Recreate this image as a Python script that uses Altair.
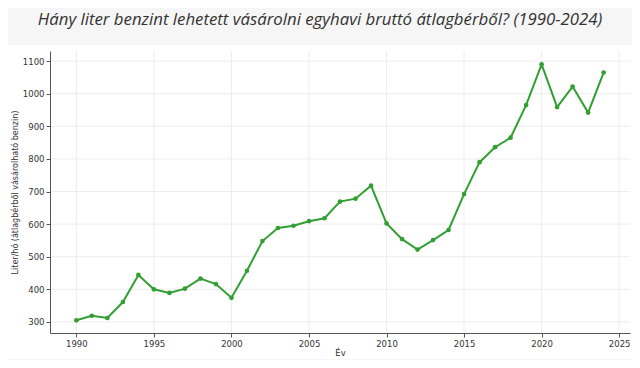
import altair as alt
import pandas as pd

years = list(range(1990, 2025))
liters = [305, 319, 312, 361, 444, 400, 389, 402, 433, 416,
          374, 457, 548, 588, 595, 609, 618, 669, 678, 718,
          602, 554, 522, 551, 582, 692, 790, 836, 865, 965,
          1090, 959, 1022, 942, 1065]

df = pd.DataFrame({"year": years, "liters": liters})

x_ticks = [1990, 1995, 2000, 2005, 2010, 2015, 2020, 2025]
y_ticks = [300, 400, 500, 600, 700, 800, 900, 1000, 1100]

green = "#339f33"
grey = "#f6f6f6"
gridc = "#e9e9e9"

xscale = alt.Scale(domain=[1988.3, 2025.7], nice=False, zero=False)
yscale = alt.Scale(domain=[266, 1131], nice=False, zero=False)
xaxis = alt.Axis(values=x_ticks, format="d", grid=False, zindex=1, labelOverlap=False)
yaxis = alt.Axis(values=y_ticks, format="d", grid=False, zindex=1, labelOverlap=False)
xtitle = "Év"
ytitle = "Liter/hó (átlagbérből vásárolható benzin)"

card = alt.Chart(pd.DataFrame({"c": [0]})).mark_rect(
    color="white", clip=False
).encode(x=alt.value(-43), x2=alt.value(583), y=alt.value(-6), y2=alt.value(308))

xgrid = alt.Chart(pd.DataFrame({"year": x_ticks})).mark_rule(
    color=gridc, strokeWidth=0.8
).encode(x=alt.X("year:Q", title=xtitle, scale=xscale, axis=xaxis))
ygrid = alt.Chart(pd.DataFrame({"liters": y_ticks})).mark_rule(
    color=gridc, strokeWidth=0.8
).encode(y=alt.Y("liters:Q", title=ytitle, scale=yscale, axis=yaxis))

xenc = alt.X("year:Q", title=xtitle, scale=xscale, axis=xaxis)
yenc = alt.Y("liters:Q", title=ytitle, scale=yscale, axis=yaxis)

line = alt.Chart(df).mark_line(color=green, strokeWidth=2).encode(x=xenc, y=yenc)
pts = alt.Chart(df).mark_circle(color=green, size=22, opacity=1).encode(x=xenc, y=yenc)

chart = alt.layer(card, xgrid, ygrid, line, pts).properties(
    width=580, height=282,
    autosize=alt.AutoSizeParams(type="none"),
    padding={"left": 42, "top": 43, "right": 2, "bottom": 27},
    background=grey,
    title=alt.TitleParams(
        "Hány liter benzint lehetett vásárolni egyhavi bruttó átlagbérből? (1990-2024)",
        font="Open Sans", fontSize=16.8, fontStyle="italic", fontWeight="normal",
        color="#333333", anchor="middle", frame="group", dx=-20, offset=16, zindex=1
    )
).configure_view(stroke=None).configure_axis(
    labelFont="DejaVu Sans", labelFontSize=8.5, labelColor="#333333",
    titleFont="DejaVu Sans", titleFontSize=8, titleFontWeight="normal", titleColor="#333333",
    domainColor="#555555", tickColor="#555555", tickSize=4, domainWidth=1,
    labelPadding=2
).configure_axisX(titlePadding=1, titleFontSize=8.5).configure_axisY(titlePadding=3)

chart.save("out.html", embed_options={"renderer": "svg", "actions": False})
